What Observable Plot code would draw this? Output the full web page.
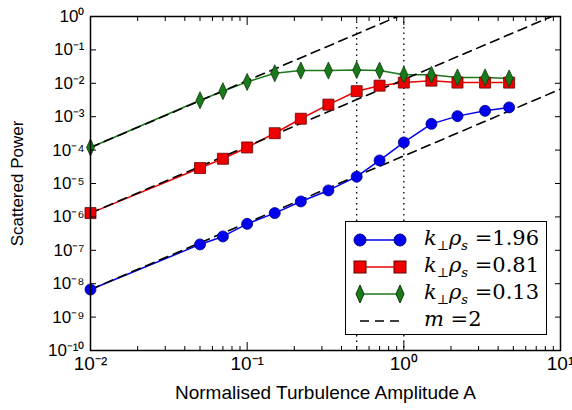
<!DOCTYPE html>
<html><head><meta charset="utf-8">
<script src="https://cdn.jsdelivr.net/npm/d3@7"></script>
<script src="https://cdn.jsdelivr.net/npm/@observablehq/plot@0.6"></script>
<style>
body{margin:0;background:#fff;font-family:"Liberation Sans",Arial,sans-serif}
#wrap{position:relative;width:572px;height:410px}
#legend{position:absolute;left:345px;top:221px;width:202px;height:114px;border:1.5px solid #000;background:#fff;box-sizing:border-box;font-family:"DejaVu Serif","Liberation Serif",serif;font-size:21px}
.row{position:absolute;left:0;height:28px;width:200px}
.row svg{position:absolute;left:6px;top:2px}
.row span{position:absolute;left:78px;top:0;font-style:italic;white-space:nowrap}
.row span b{font-style:normal;font-weight:normal}
</style></head><body>
<div id="wrap"><div id="chart"></div>
<div id="legend"></div></div>
<script>
const amp = [0.01,0.05,0.07,0.1,0.15,0.22,0.33,0.5,0.7,1.0,1.5,2.2,3.3,4.7];
const blue = [6.7e-9,1.5e-7,2.6e-7,6.2e-7,1.3e-6,2.9e-6,6.2e-6,1.6e-5,4.9e-5,1.7e-4,6.1e-4,1.04e-3,1.5e-3,1.9e-3];
const red  = [1.3e-6,2.9e-5,5.5e-5,1.2e-4,3.2e-4,8.7e-4,2.3e-3,5.8e-3,8.5e-3,1.05e-2,1.2e-2,1.05e-2,1.05e-2,1.05e-2];
const green= [1.2e-4,3.1e-3,5.8e-3,1.1e-2,2.0e-2,2.4e-2,2.4e-2,2.5e-2,2.4e-2,1.8e-2,1.8e-2,1.5e-2,1.5e-2,1.4e-2];
const seriesNames = ["k⊥ρs=1.96","k⊥ρs=0.81","k⊥ρs=0.13"];
const colors = ["#0000ee","#ee0000","#1a7a1a"];
const fitCoef = [6.7e-5,1.3e-2,1.2];  // m=2 fits: P = c*A^2
const fitA = [0.01,10];
const vlines = [0.5,1.0];
const xMajor = [0.01,0.1,1,10];
const yMajor = d3.range(-10,1).map(e=>10**e);
const xMinor = [];
for (let e=-2;e<1;e++) for (let k=2;k<10;k++) xMinor.push(k*10**e);

const sup = {"-":"⁻","0":"⁰","1":"¹","2":"²","3":"³","4":"⁴","5":"⁵","6":"⁶","7":"⁷","8":"⁸","9":"⁹"};
const fmt = v => "10" + String(Math.round(Math.log10(v))).split("").map(c=>sup[c]).join("");
const blank = () => "";

const sets = [blue,red,green];
const pts = sets.flatMap((s,i)=>s.map((v,j)=>({A:amp[j],P:v,s:i})));
const fits = fitCoef.flatMap((c,i)=>fitA.map(a=>({A:a,P:c*a*a,s:i})));

const thinDiamond = {draw(ctx,size){const w=4,h=8.5;ctx.moveTo(0,-h);ctx.lineTo(w,0);ctx.lineTo(0,h);ctx.lineTo(-w,0);ctx.closePath();}};
const square = {draw(ctx,size){const r=5.5;ctx.rect(-r,-r,2*r,2*r);}};
const circ = {draw(ctx,size){ctx.moveTo(5.5,0);ctx.arc(0,0,5.5,0,2*Math.PI);}};
const syms=[circ,square,thinDiamond];
const strokes=["#000088","#660000","#0a3a0a"];

const xs={type:"log",domain:[0.01,10]}, ys={type:"log",domain:[1e-10,1]};
const chart = Plot.plot({
  width:572,height:410,marginLeft:90,marginRight:12,marginTop:16,marginBottom:60,
  x:xs,y:ys,
  style:{fontFamily:"Liberation Sans, Arial, sans-serif",fontSize:"16px",color:"#000",overflow:"visible"},
  marks:[
    Plot.ruleX(vlines,{stroke:"#000",strokeDasharray:"1.5,4",strokeWidth:1.3}),
    ...[0,1,2].map(i=>Plot.line(pts.filter(d=>d.s===i),{x:"A",y:"P",stroke:colors[i],strokeWidth:1.5})),
    ...[0,1,2].map(i=>Plot.line(fits.filter(d=>d.s===i),{x:"A",y:"P",stroke:"#000",strokeDasharray:"9,6",strokeWidth:1.6,clip:true})),
    ...[0,1,2].map(i=>Plot.dot(pts.filter(d=>d.s===i),{x:"A",y:"P",symbol:()=>syms[i],fill:colors[i],stroke:strokes[i],strokeWidth:0.8,r:5})),
    Plot.frame({stroke:"#000",strokeWidth:1.5}),
    Plot.axisX(xMajor,{anchor:"bottom",tickSize:-8,tickFormat:fmt,tickPadding:14,fontSize:19,label:"Normalised Turbulence Amplitude A",labelAnchor:"center",labelOffset:48,labelArrow:"none"}),
    Plot.axisX(xMinor,{anchor:"bottom",tickSize:-4,tickFormat:blank,label:null}),
    Plot.axisX(xMajor,{anchor:"top",tickSize:-8,tickFormat:blank,label:null}),
    Plot.axisX(xMinor,{anchor:"top",tickSize:-4,tickFormat:blank,label:null}),
    Plot.axisY(yMajor,{anchor:"left",tickSize:-6,tickFormat:fmt,tickPadding:12,fontSize:17,label:"Scattered Power",labelAnchor:"center",labelOffset:80,labelArrow:"none"}),
    Plot.axisY(yMajor,{anchor:"right",tickSize:-6,tickFormat:blank,label:null})
  ]
});
document.getElementById("chart").appendChild(chart);

const lg=document.getElementById("legend");
const vals=["1.96","0.81","0.13"];
const shapes=[
  (c,s)=>`<circle cx="8" cy="12" r="6" fill="${c}" stroke="${s}"/><circle cx="48" cy="12" r="6" fill="${c}" stroke="${s}"/>`,
  (c,s)=>`<rect x="2" y="6" width="12" height="12" fill="${c}" stroke="${s}"/><rect x="42" y="6" width="12" height="12" fill="${c}" stroke="${s}"/>`,
  (c,s)=>`<path d="M8,3L12,12L8,21L4,12Z" fill="${c}" stroke="${s}"/><path d="M48,3L52,12L48,21L44,12Z" fill="${c}" stroke="${s}"/>`
];
let html="";
for(let i=0;i<3;i++){
  html+=`<div class="row" style="top:${4+i*27}px"><svg width="60" height="24"><line x1="8" y1="12" x2="48" y2="12" stroke="${colors[i]}" stroke-width="1.5"/>${shapes[i](colors[i],strokes[i])}</svg><span>k<sub style="font-size:13px">⊥</sub>ρ<sub style="font-size:13px">s</sub> <b>=${vals[i]}</b></span></div>`;
}
html+=`<div class="row" style="top:${4+3*27}px"><svg width="60" height="24"><line x1="8" y1="12" x2="48" y2="12" stroke="#000" stroke-width="1.6" stroke-dasharray="9,6"/></svg><span style="left:78px">m <b>=2</b></span></div>`;
lg.innerHTML=html;
</script></body></html>
